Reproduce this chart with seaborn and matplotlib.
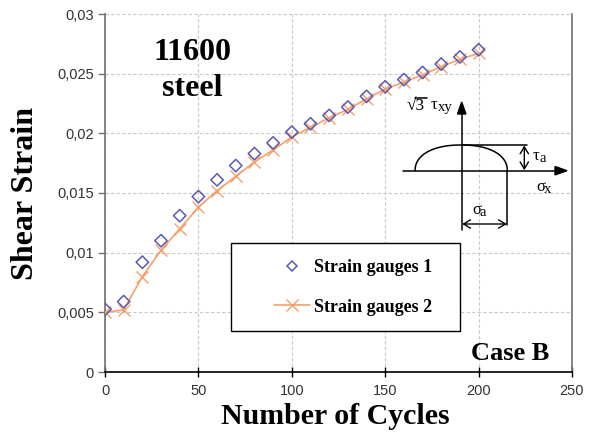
import numpy as np
import pandas as pd
import matplotlib
matplotlib.use("Agg")
import matplotlib.pyplot as plt
from matplotlib.patches import Rectangle, FancyArrowPatch, Polygon
from matplotlib.lines import Line2D
import seaborn as sns

# ---- data ----
cycles = [0, 10, 20, 30, 40, 50, 60, 70, 80, 90, 100, 110, 120, 130, 140, 150, 160, 170, 180, 190, 200]
gauges1 = [0.00525, 0.0059, 0.0092, 0.0110, 0.0131, 0.0147, 0.0161, 0.0173, 0.0183, 0.0192, 0.0201,
           0.0208, 0.0215, 0.0222, 0.0231, 0.0239, 0.0245, 0.0251, 0.0258, 0.0264, 0.0270]
gauges2 = [0.0050, 0.0052, 0.0080, 0.0102, 0.0120, 0.0138, 0.0152, 0.0164, 0.0176, 0.0186, 0.0197,
           0.0205, 0.0213, 0.0220, 0.0229, 0.0237, 0.0243, 0.0249, 0.0256, 0.0262, 0.0267]
series_names = ["Strain gauges 1", "Strain gauges 2"]
x_ticks = [0, 50, 100, 150, 200, 250]
y_ticks = [0, 0.005, 0.01, 0.015, 0.02, 0.025, 0.03]
y_tick_labels = ["0", "0,005", "0,01", "0,015", "0,02", "0,025", "0,03"]

df = pd.DataFrame({"cycles": cycles, "g1": gauges1, "g2": gauges2})

sns.set_style("white")
plt.rcParams["font.family"] = ["Liberation Sans", "DejaVu Sans"]
plt.rcParams["text.color"] = "black"

W, H = 594, 437
fig = plt.figure(figsize=(W / 100, H / 100), dpi=100)


def fx(px):
    return px / W


def fy(py):
    return 1 - py / H


ax = fig.add_axes([fx(105), fy(372), fx(572) - fx(105), fy(14) - fy(372)])

c1 = "#5a5ab4"
c2 = "#f5a06c"

sns.lineplot(data=df, x="cycles", y="g2", ax=ax, color=c2, linewidth=1.2,
             marker="x", markersize=9, markeredgewidth=1.0, markeredgecolor=c2,
             label=series_names[1], legend=False, zorder=3)
sns.scatterplot(data=df, x="cycles", y="g1", ax=ax, marker="D", s=40,
                facecolor="none", edgecolor=c1, linewidth=1.1,
                label=series_names[0], legend=False, zorder=4)
for coll in ax.collections:
    coll.set_facecolor("none")
    coll.set_edgecolor(c1)

ax.set_xlim(0, 250)
ax.set_ylim(0, 0.03)
ax.set_xticks(x_ticks)
ax.set_xticklabels([str(v) for v in x_ticks])
ax.set_yticks(y_ticks)
ax.set_yticklabels(y_tick_labels)
ax.grid(True, linestyle=(0, (3, 2)), color="#c8c8c8", linewidth=0.8)
ax.set_axisbelow(True)
ax.tick_params(axis="both", labelsize=10.5, labelcolor="#333333")
ax.tick_params(axis="y", direction="out", length=5, width=1, color="#707070", pad=3, left=True)
ax.tick_params(axis="x", direction="inout", length=7, width=1, color="#000000", pad=5, bottom=True)
ax.set_xlabel("")
ax.set_ylabel("")
for s in ["left", "right"]:
    ax.spines[s].set_color("#707070")
    ax.spines[s].set_linewidth(1.2)
ax.spines["bottom"].set_color("#000000")
ax.spines["bottom"].set_linewidth(1.2)
ax.spines["top"].set_visible(False)

serif_b = dict(family=["Liberation Serif", "DejaVu Serif"], weight="bold", color="black")
serif = dict(family=["Liberation Serif", "DejaVu Serif"], color="black")

fig.text(fx(335), fy(416), "Number of Cycles", ha="center", va="center", fontsize=21.5, **serif_b)
fig.text(fx(26), fy(194), "Shear Strain", ha="center", va="center", rotation=90, fontsize=23, **serif_b)
fig.text(fx(192), fy(53), "11600", ha="center", va="center", fontsize=23, **serif_b)
fig.text(fx(192), fy(88), "steel", ha="center", va="center", fontsize=23, **serif_b)
fig.text(fx(510), fy(353), "Case B", ha="center", va="center", fontsize=19, **serif_b)

# legend box + entries
fig.patches.append(Rectangle((fx(231), fy(331)), fx(460) - fx(231), fy(243) - fy(331),
                             transform=fig.transFigure, fill=True, facecolor="white",
                             edgecolor="black", linewidth=1.0, zorder=5))
h1 = Line2D([], [], linestyle="none", marker="D", markersize=5.5, markerfacecolor="none",
            markeredgecolor=c1, markeredgewidth=1.1)
h2 = Line2D([], [], color=c2, linewidth=1.2, marker="x", markersize=9, markeredgecolor=c2)
leg = fig.legend([h1, h2], series_names, loc="upper left",
                 bbox_to_anchor=(fx(274), fy(259)), bbox_transform=fig.transFigure,
                 frameon=False, handlelength=2.0, handletextpad=0.2, labelspacing=1.25,
                 borderaxespad=0, borderpad=0, labelcolor="black",
                 prop=dict(family=["Liberation Serif", "DejaVu Serif"], weight="bold", size=13))
leg.set_zorder(6)

# inset diagram (figure pixel coordinates)
def L(xs, ys, **kw):
    fig.add_artist(Line2D([fx(v) for v in xs], [fy(v) for v in ys], transform=fig.transFigure,
                          color="black", linewidth=1.1, **kw))


# axes of the diagram
L([461.7, 461.7], [230, 110])
fig.add_artist(Polygon([[fx(461.7), fy(102)], [fx(457.5), fy(114)], [fx(465.9), fy(114)]],
                       closed=True, transform=fig.transFigure, color="black"))
L([403, 558], [170.7, 170.7])
fig.add_artist(Polygon([[fx(567), fy(170.7)], [fx(555), fy(166.5)], [fx(555), fy(174.9)]],
                       closed=True, transform=fig.transFigure, color="black"))
# half ellipse
t = np.linspace(0, np.pi, 90)
cx, a, b = 461.2, 46.1, 25.7
p = 0.9
ex = cx + a * np.sign(np.cos(t)) * np.abs(np.cos(t)) ** p
ey = 170.7 - b * np.abs(np.sin(t)) ** p
L(list(ex), list(ey))
L([507.3, 507.3], [170.7, 225])
L([461.7, 527], [145, 145])
# tau_a double arrow
fig.add_artist(FancyArrowPatch((fx(524.3), fy(145.5)), (fx(524.3), fy(170.2)), transform=fig.transFigure,
                               arrowstyle="<->,head_length=5,head_width=3", color="black",
                               linewidth=1.0, mutation_scale=1, shrinkA=0, shrinkB=0))
# sigma_a double arrow
fig.add_artist(FancyArrowPatch((fx(462.2), fy(224)), (fx(506.8), fy(224)), transform=fig.transFigure,
                               arrowstyle="<->,head_length=5,head_width=3", color="black",
                               linewidth=1.0, mutation_scale=1, shrinkA=0, shrinkB=0))
fig.text(fx(533), fy(156), "τ", ha="left", va="center", fontsize=12, **serif)
fig.text(fx(539.5), fy(158), "a", ha="left", va="center", fontsize=10.5, **serif)
fig.text(fx(536), fy(187), "σ", ha="left", va="center", fontsize=12, **serif)
fig.text(fx(543.5), fy(189), "x", ha="left", va="center", fontsize=10.5, **serif)
fig.text(fx(472), fy(210), "σ", ha="left", va="center", fontsize=12, **serif)
fig.text(fx(479.5), fy(212), "a", ha="left", va="center", fontsize=10.5, **serif)
fig.text(fx(407), fy(106), "√3", ha="left", va="center", fontsize=12.5, **serif)
L([415, 427], [98.0, 98.0])
fig.text(fx(431), fy(105), "τ", ha="left", va="center", fontsize=12, **serif)
fig.text(fx(438), fy(107), "xy", ha="left", va="center", fontsize=10.5, **serif)

fig.savefig("out.png", dpi=100)
